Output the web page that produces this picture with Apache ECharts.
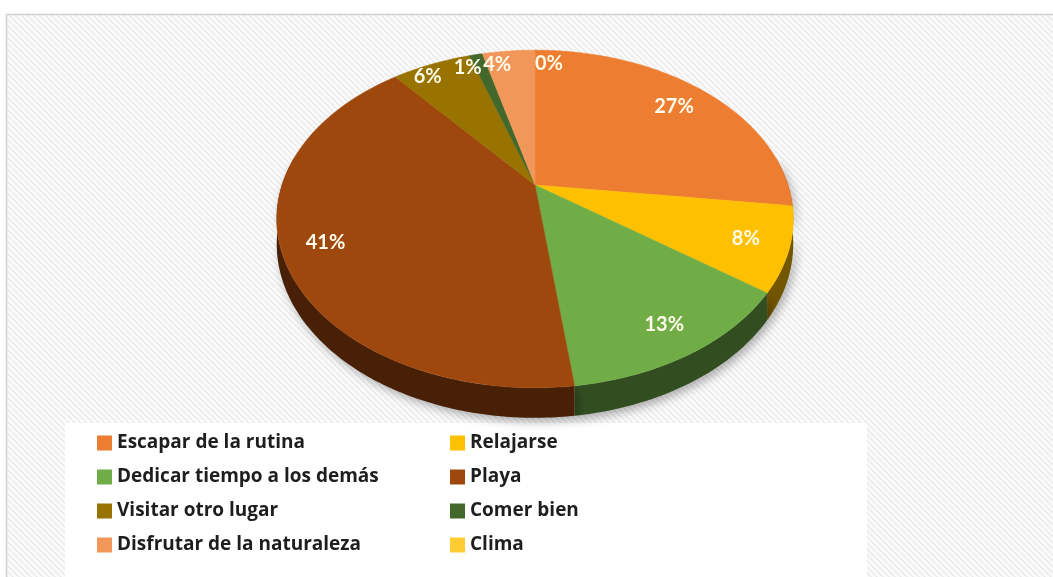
<!DOCTYPE html>
<html>
<head>
<meta charset="utf-8">
<script src="https://cdn.jsdelivr.net/npm/echarts@6/dist/echarts.min.js"></script>
<style>
  html, body { margin: 0; padding: 0; background: #fff; }
  #chart { width: 1053px; height: 577px; }
</style>
</head>
<body>
<div id="chart"></div>
<script>
// data
var categories = ['Escapar de la rutina', 'Relajarse', 'Dedicar tiempo a los demás', 'Playa',
                  'Visitar otro lugar', 'Comer bien', 'Disfrutar de la naturaleza', 'Clima'];
var shares = [27, 8, 13, 41, 6, 1, 4, 0];
var colors = ['#ED7D31', '#FFC000', '#70AD47', '#9E480E', '#997300', '#43682B', '#F1975A', '#FFCD33'];

// 3d pie geometry (top face centre, radius, tilt, perspective, depth)
var CX = 535, CY = 185, R = 253, RK = 162, P = 0.201, DEPTH = 24;

var total = shares.reduce(function (a, b) { return a + b; }, 0);
var starts = [];
var acc = 0;
shares.forEach(function (v) { starts.push(acc / total * Math.PI * 2); acc += v; });

function proj(t, rho, drop) {
  var u = Math.sin(t), v = Math.cos(t);
  var s = 1 / (1 + P * v);
  return [CX + R * rho * u * s, CY - RK * rho * v * s + drop * s];
}

function darken(hex, k) {
  var n = parseInt(hex.slice(1), 16);
  var r = Math.round((n >> 16 & 255) * k), g = Math.round((n >> 8 & 255) * k), b = Math.round((n & 255) * k);
  return 'rgb(' + r + ',' + g + ',' + b + ')';
}

function arc(a, b, rho, drop) {
  var pts = [];
  var n = Math.max(2, Math.ceil((b - a) / (Math.PI / 180)));
  for (var k = 0; k <= n; k++) pts.push(proj(a + (b - a) * k / n, rho, drop));
  return pts;
}

function renderSlice(params, api) {
  var i = params.seriesIndex;
  var v = api.value(0);
  var a0 = starts[i], a1 = a0 + v / total * Math.PI * 2;
  var children = [];
  if (v > 0) {
    var lo = Math.max(a0, Math.PI * 80 / 180), hi = Math.min(a1, Math.PI * 280 / 180);
    if (hi > lo) {
      var sidePts = arc(lo, hi, 1, 0).concat(arc(lo, hi, 1, DEPTH).reverse());
      children.push({
        type: 'polygon', z2: 1,
        shape: { points: sidePts },
        style: { fill: darken(colors[i], 0.45), shadowBlur: 10, shadowOffsetX: 3, shadowOffsetY: 4,
                 shadowColor: 'rgba(0,0,0,0.3)' }
      });
    }
    children.push({
      type: 'polygon', z2: 10,
      shape: { points: [proj(0, 0, 0)].concat(arc(a0, a1, 1, 0)) },
      style: { fill: colors[i], stroke: colors[i], lineWidth: 0.5 }
    });
  }
  // labels: big slices inside, small ones near the rim, pushed away from the top
  var mid = (a0 + a1) / 2;
  var small = v / total < 0.07;
  var pos = proj(mid, small ? 0.9 : 0.83, 0);
  var align = 'center';
  if (small) align = Math.sin(mid) < -0.05 ? 'right' : 'left';
  children.push({
    type: 'text', z2: 30, x: pos[0], y: pos[1],
    style: {
      text: Math.round(v / total * 100) + '%',
      fill: '#fffbea', font: 'bold 20px Lato', align: align, verticalAlign: 'middle'
    }
  });
  return { type: 'group', children: children };
}

// hatched background
var pc = document.createElement('canvas');
pc.width = 6; pc.height = 6;
var ctx = pc.getContext('2d');
ctx.fillStyle = '#fbfbfb';
ctx.fillRect(0, 0, 6, 6);
ctx.strokeStyle = '#ebebeb';
ctx.lineWidth = 1.6;
[-6, 0, 6].forEach(function (k) {
  ctx.beginPath(); ctx.moveTo(k, 0); ctx.lineTo(k + 6, 6); ctx.stroke();
});

var series = categories.map(function (name, i) {
  return {
    type: 'custom', name: name, coordinateSystem: 'none',
    itemStyle: { color: colors[i] },
    renderItem: renderSlice,
    data: [[shares[i]]]
  };
});

var legendBase = {
  orient: 'vertical', icon: 'rect', itemWidth: 15, itemHeight: 15, itemGap: 14, padding: 0,
  top: 433,
  textStyle: { fontFamily: 'Open Sans', fontWeight: 'bold', fontSize: 19, lineHeight: 20, color: '#1e1e1e' }
};

var chart = echarts.init(document.getElementById('chart'));
chart.setOption({
  animation: false,
  graphic: [
    { type: 'rect', z: -10, shape: { x: 6.5, y: 14.5, width: 1100, height: 600 },
      style: { fill: { image: pc, repeat: 'repeat' }, stroke: '#d2d2d2', lineWidth: 1.5 } },
    { type: 'rect', z: -9, shape: { x: 65, y: 423, width: 802, height: 200 },
      style: { fill: '#ffffff' } }
  ],
  legend: [
    Object.assign({}, legendBase, { left: 97, data: [categories[0], categories[2], categories[4], categories[6]] }),
    Object.assign({}, legendBase, { left: 450, data: [categories[1], categories[3], categories[5], categories[7]] })
  ],
  series: series
});
</script>
</body>
</html>
